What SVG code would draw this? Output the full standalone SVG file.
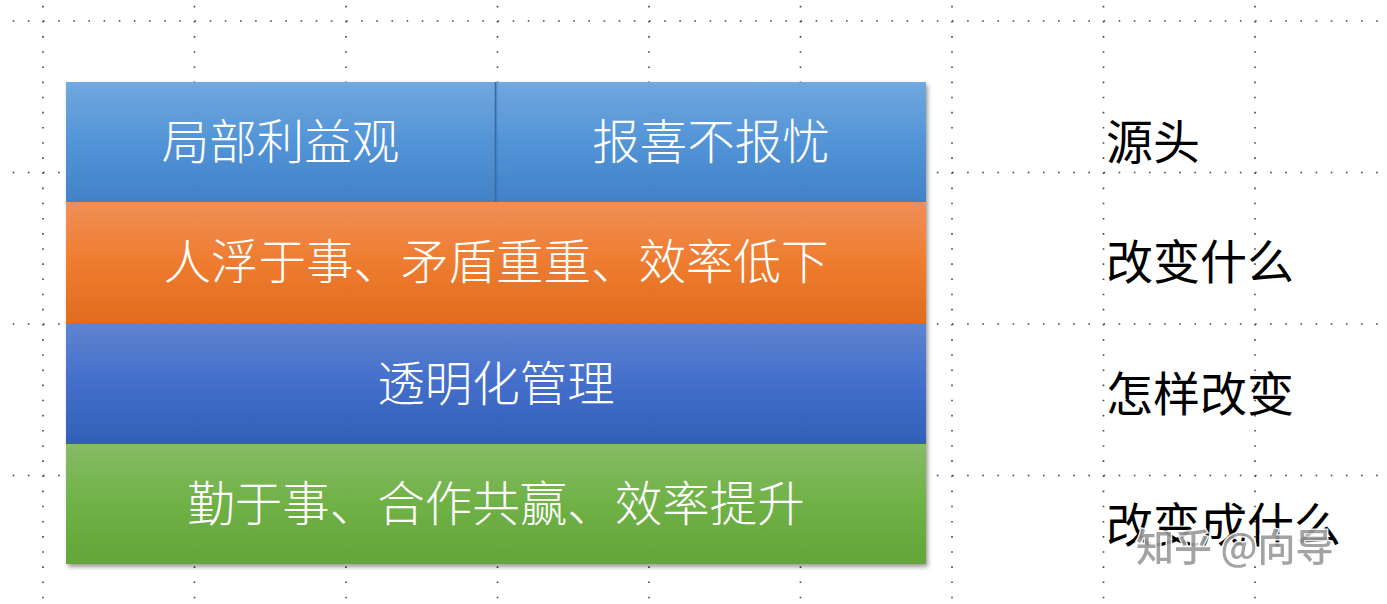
<svg xmlns="http://www.w3.org/2000/svg" width="1387" height="604" viewBox="0 0 1387 604">
<defs>
<style>
.grid line{stroke:#444;stroke-width:1.6;stroke-dasharray:1.6 13.55}
.wt{font-family:"Noto Sans CJK SC","Noto Sans",sans-serif;font-weight:300;font-size:47.5px;fill:#fff;text-anchor:middle}
.lbl{font-family:"Noto Sans CJK SC","Noto Sans",sans-serif;font-weight:400;font-size:47px;fill:#000}
.wm{font-family:"Noto Sans CJK SC","Noto Sans",sans-serif;font-weight:500;font-size:38px;fill:#9a9a9a;stroke:#fff;stroke-width:3;paint-order:stroke;opacity:0.9}
</style>
<linearGradient id="gBlue" x1="0" y1="0" x2="0" y2="1"><stop offset="0" stop-color="#6ea6de"/><stop offset="0.5" stop-color="#4f93d8"/><stop offset="1" stop-color="#3e7fc6"/></linearGradient>
<linearGradient id="gOrange" x1="0" y1="0" x2="0" y2="1"><stop offset="0" stop-color="#f28d55"/><stop offset="0.5" stop-color="#f07a2a"/><stop offset="1" stop-color="#e2691a"/></linearGradient>
<linearGradient id="gBlue2" x1="0" y1="0" x2="0" y2="1"><stop offset="0" stop-color="#5c82d0"/><stop offset="0.5" stop-color="#3f6ccb"/><stop offset="1" stop-color="#2f5cb6"/></linearGradient>
<linearGradient id="gGreen" x1="0" y1="0" x2="0" y2="1"><stop offset="0" stop-color="#85bb63"/><stop offset="0.5" stop-color="#6db142"/><stop offset="1" stop-color="#60a435"/></linearGradient>
<filter id="shadow" x="-5%" y="-10%" width="110%" height="130%"><feDropShadow dx="2" dy="3" stdDeviation="2.2" flood-color="#000" flood-opacity="0.4"/></filter>
</defs>
<rect width="1387" height="604" fill="#fff"/>
<g class="grid">
<line x1="43" y1="5.8" x2="43" y2="604"/>
<line x1="194.5" y1="5.8" x2="194.5" y2="604"/>
<line x1="346" y1="5.8" x2="346" y2="604"/>
<line x1="497.5" y1="5.8" x2="497.5" y2="604"/>
<line x1="649" y1="5.8" x2="649" y2="604"/>
<line x1="800.5" y1="5.8" x2="800.5" y2="604"/>
<line x1="952" y1="5.8" x2="952" y2="604"/>
<line x1="1103.5" y1="5.8" x2="1103.5" y2="604"/>
<line x1="1255" y1="5.8" x2="1255" y2="604"/>
<line x1="12.7" y1="21" x2="1380" y2="21"/>
<line x1="12.7" y1="172.5" x2="1380" y2="172.5"/>
<line x1="12.7" y1="324" x2="1380" y2="324"/>
<line x1="12.7" y1="475.5" x2="1380" y2="475.5"/>
</g>
<g id="stack" filter="url(#shadow)">
<rect x="66" y="82" width="860" height="120" fill="url(#gBlue)" opacity="0.96"/>
<rect x="66" y="202" width="860" height="121" fill="url(#gOrange)" opacity="0.96"/>
<rect x="66" y="323" width="860" height="121" fill="url(#gBlue2)" opacity="0.96"/>
<rect x="66" y="444" width="860" height="120" fill="url(#gGreen)" opacity="0.96"/>
</g>
<g id="divider">
<line x1="495.5" y1="82" x2="495.5" y2="202" stroke="#3a6aa0" stroke-width="1.6"/>
<line x1="497" y1="82" x2="497" y2="202" stroke="#3a6aa0" stroke-width="1" opacity="0.35"/>
</g>
<g id="node-local"><text class="wt" x="280.5" y="159">局部利益观</text></g>
<g id="node-report"><text class="wt" x="711" y="159">报喜不报忧</text></g>
<g id="node-problem"><text class="wt" x="496" y="279">人浮于事、矛盾重重、效率低下</text></g>
<g id="node-method"><text class="wt" x="496" y="401">透明化管理</text></g>
<g id="node-result"><text class="wt" x="496" y="521">勤于事、合作共赢、效率提升</text></g>
<g id="label-source"><text class="lbl" x="1106" y="158.5">源头</text></g>
<g id="label-what"><text class="lbl" x="1106" y="279">改变什么</text></g>
<g id="label-how"><text class="lbl" x="1106" y="410.5">怎样改变</text></g>
<g id="label-into"><text class="lbl" x="1106" y="541.5">改变成什么</text></g>
<g id="connectors"></g>
<text class="wm" x="1136" y="561">知乎 @向导</text>
</svg>
